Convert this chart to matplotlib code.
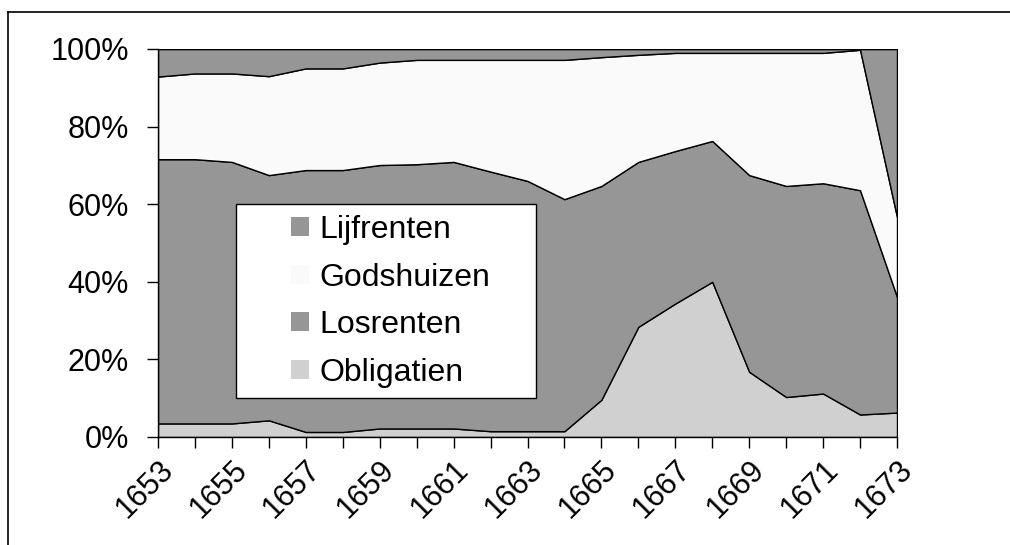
import numpy as np
import matplotlib.pyplot as plt
from matplotlib.patches import Patch, Rectangle
from matplotlib.lines import Line2D

# years on the x axis, every second one gets a label
years = list(range(1653, 1674))
labels = [str(y) if (y - 1653) % 2 == 0 else "" for y in years]

# shares in percent, bottom of the stack first
obligatien = [3.5, 3.5, 3.5, 4.3, 1.3, 1.3, 2.2, 2.2, 2.2, 1.5, 1.5,
              1.5, 9.6, 28.4, 34.4, 40.0, 16.8, 10.3, 11.2, 5.8, 6.3]
losrenten = [68.1, 68.1, 67.4, 63.2, 67.5, 67.5, 67.9, 68.1, 68.7, 66.9, 64.5,
             59.8, 55.1, 42.5, 39.3, 36.3, 50.7, 54.4, 54.2, 57.8, 29.8]
godshuizen = [21.3, 22.1, 22.8, 25.5, 26.2, 26.2, 26.4, 26.9, 26.3, 28.8, 31.2,
              35.9, 33.2, 27.6, 25.3, 22.7, 31.5, 34.3, 33.6, 36.2, 20.6]
lijfrenten = [7.1, 6.3, 6.3, 7.0, 5.0, 5.0, 3.5, 2.8, 2.8, 2.8, 2.8,
              2.8, 2.1, 1.5, 1.0, 1.0, 1.0, 1.0, 1.0, 0.2, 43.3]

names = ["Obligatien", "Losrenten", "Godshuizen", "Lijfrenten"]
colors = ["#d0d0d0", "#969696", "#fafafa", "#969696"]

plt.rcParams['font.family'] = ['Liberation Sans', 'DejaVu Sans']

fig = plt.figure(figsize=(10.1, 5.45), dpi=100)
W, H = 1010, 545
ax = fig.add_axes([158 / W, 1 - 437 / H, (897 - 158) / W, (437 - 49) / H])

x = np.arange(len(years))
ax.stackplot(x, obligatien, losrenten, godshuizen, lijfrenten,
             colors=colors, edgecolor="black", linewidth=1)

ax.set_xlim(0, len(years) - 1)
ax.set_ylim(0, 100)
ax.set_yticks([0, 20, 40, 60, 80, 100])
ax.set_yticklabels(["0%", "20%", "40%", "60%", "80%", "100%"], fontsize=22)
ax.set_xticks(x)
ax.set_xticklabels(labels, fontsize=22, rotation=45, ha="right",
                   rotation_mode="anchor")
ax.tick_params(axis="y", direction="out", length=8, width=1, pad=13)
ax.tick_params(axis="x", direction="out", length=8, width=1, pad=5)

for s in ["top", "right"]:
    ax.spines[s].set_visible(False)
ax.spines["left"].set_linewidth(1)
ax.spines["bottom"].set_linewidth(1)
ax.axhline(100, color="black", linewidth=1)

# legend box drawn by hand, entries placed inside it
bx0, bx1 = (236 - 158) / 739, (536 - 158) / 739
by0, by1 = (437 - 398) / 388, (437 - 204) / 388
ax.add_patch(Rectangle((bx0, by0), bx1 - bx0, by1 - by0, transform=ax.transAxes,
                       facecolor="white", edgecolor="black", linewidth=1, zorder=5))

handles = [Patch(facecolor=colors[i], edgecolor="none") for i in [3, 2, 1, 0]]
leg = ax.legend(handles, [names[i] for i in [3, 2, 1, 0]],
                loc="upper left", bbox_to_anchor=((291 - 158) / 739, (437 - 215) / 388),
                fontsize=23, frameon=False,
                handlelength=0.55, handleheight=0.55, handletextpad=0.35,
                labelspacing=0.55, borderpad=0, borderaxespad=0)
leg.set_zorder(6)

# outer frame of the chart area
fig.add_artist(Line2D([8 / W, 8 / W], [0, 1 - 12 / H], color="black", linewidth=1.2))
fig.add_artist(Line2D([8 / W, 1], [1 - 12 / H, 1 - 12 / H], color="black", linewidth=1.2))

fig.savefig("out.png", dpi=100)
